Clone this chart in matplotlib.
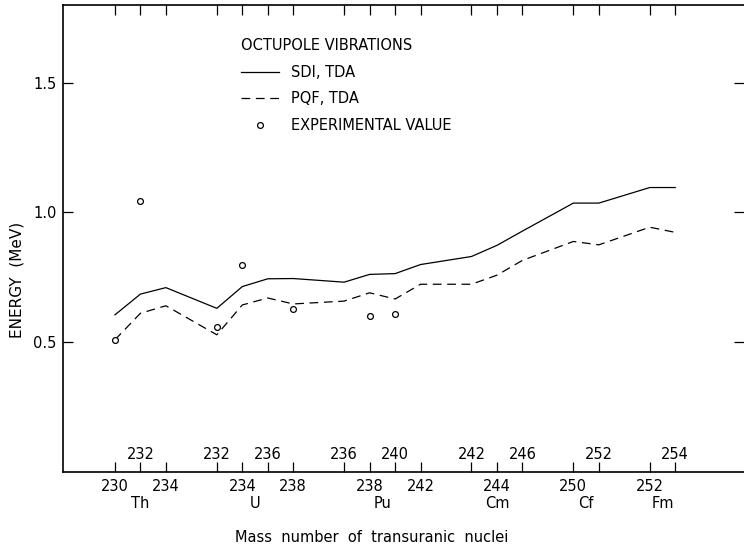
import matplotlib
matplotlib.use("Agg")
import matplotlib.pyplot as plt
from matplotlib.transforms import blended_transform_factory

# ---- data ----
# position index along the axis (groups separated by one empty slot)
positions = [0, 1, 2, 4, 5, 6, 7, 9, 10, 11, 12, 14, 15, 16, 18, 19, 21, 22]
mass_labels = ["230", "232", "234", "232", "234", "236", "238", "236", "238",
               "240", "242", "242", "244", "246", "250", "252", "252", "254"]
label_below = [True, False, True, False, True, False, True, False, True,
               False, True, False, True, False, True, False, True, False]
elements = ["Th", "U", "Pu", "Cm", "Cf", "Fm"]
element_pos = [1, 5.5, 10.5, 15, 18.5, 21.5]

sdi_tda = [0.605, 0.685, 0.71, 0.63, 0.714, 0.744, 0.745, 0.731, 0.761,
           0.764, 0.799, 0.83, 0.873, 0.928, 1.036, 1.036, 1.096, 1.096]
pqf_tda = [0.509, 0.611, 0.64, 0.528, 0.643, 0.67, 0.647, 0.658, 0.69,
           0.666, 0.723, 0.723, 0.758, 0.815, 0.888, 0.875, 0.943, 0.923]
exp_pos = [0, 1, 4, 5, 7, 10, 11]
exp_val = [0.508, 1.045, 0.56, 0.797, 0.627, 0.60, 0.61]

yticks = [0.5, 1.0, 1.5]
ytick_labels = ["0.5", "1.0", "1.5"]

# ---- figure ----
W, H = 744, 550
fig = plt.figure(figsize=(W / 100, H / 100), dpi=100)
ax = fig.add_axes([63 / W, (H - 471.7) / H, (744 - 63) / W, (471.7 - 5) / H])

ax.set_xlim(-2.04, 24.7)
ax.set_ylim(0, 1.8)

lw = 0.9
ax.plot(positions, sdi_tda, color="black", lw=lw, linestyle="-", label="SDI, TDA")
ax.plot(positions, pqf_tda, color="black", lw=lw, linestyle=(0, (7, 4.5)),
        label="PQF, TDA")
ax.plot(exp_pos, exp_val, linestyle="none", marker="o", markersize=4.2,
        markerfacecolor="white", markeredgecolor="black", markeredgewidth=0.9,
        label="EXPERIMENTAL VALUE")

# spines
for s in ["left", "bottom", "top"]:
    ax.spines[s].set_linewidth(1.2)
ax.spines["right"].set_visible(False)

# x ticks
fs = 10.5
ax.set_xticks(positions)
ax.set_xticklabels([m if b else "" for m, b in zip(mass_labels, label_below)],
                   fontsize=fs)
ax.tick_params(axis="x", which="major", direction="in", length=7, width=0.9,
               top=True, pad=5)

trans = blended_transform_factory(ax.transData, ax.transAxes)
for p, m, b in zip(positions, mass_labels, label_below):
    if not b:
        ax.annotate(m, xy=(p, 0), xycoords=trans, xytext=(0, 12.7),
                    textcoords="offset points", ha="center", va="center",
                    fontsize=fs)
for p, e in zip(element_pos, elements):
    ax.annotate(e, xy=(p, 0), xycoords=trans, xytext=(0, -22.8),
                textcoords="offset points", ha="center", va="center",
                fontsize=fs)

# y ticks
ax.set_yticks(yticks)
ax.set_yticklabels(ytick_labels, fontsize=fs)
ax.tick_params(axis="y", direction="in", length=7, width=0.9, right=True,
               pad=4.5)

# axis labels
ax.set_xlabel("Mass  number  of  transuranic  nuclei", fontsize=10.5)
ax.xaxis.set_label_coords((372 - 63) / 681, -(537 - 471.7) / 466.7)
ax.xaxis.label.set_va("center")
ax.set_ylabel("ENERGY  (MeV)", fontsize=11)
ax.yaxis.set_label_coords((17.5 - 63) / 681, (471.7 - 280) / 466.7)
ax.yaxis.label.set_va("center")

# legend
leg = ax.legend(title="OCTUPOLE VIBRATIONS", loc="upper left",
                bbox_to_anchor=((241 - 63) / 681, (471.7 - 38) / 466.7),
                frameon=False, fontsize=fs, title_fontsize=fs,
                handlelength=2.6, handletextpad=0.8, labelspacing=0.8,
                borderpad=0, borderaxespad=0, alignment="left")

fig.savefig("out.png", dpi=100)
